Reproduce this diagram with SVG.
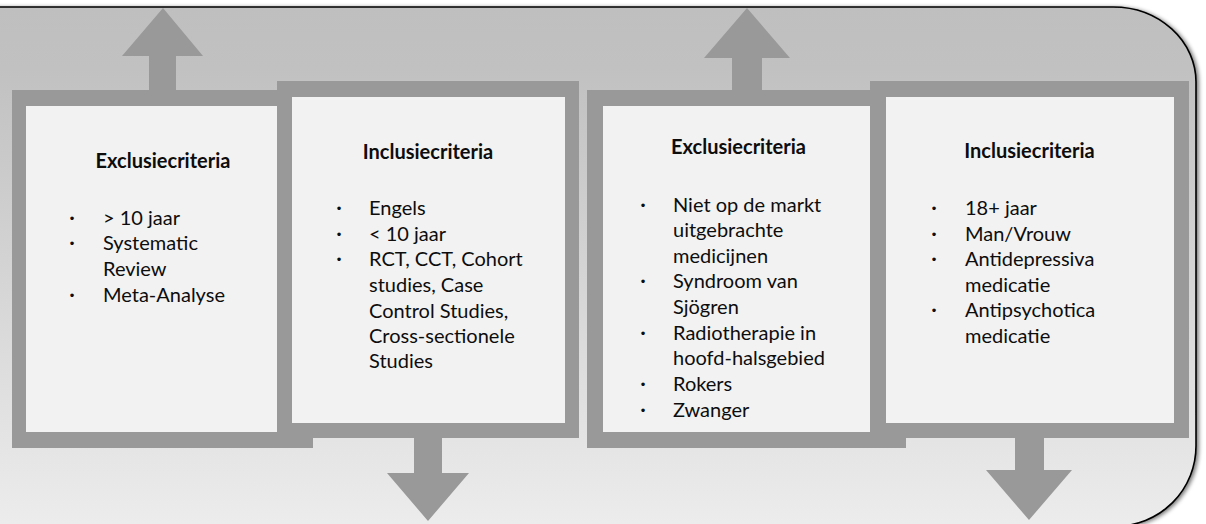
<svg xmlns="http://www.w3.org/2000/svg" width="1206" height="524" viewBox="0 0 1206 524">
<defs>
<linearGradient id="bg" gradientUnits="userSpaceOnUse" x1="0" y1="7" x2="0" y2="524">
<stop offset="0" stop-color="#bfbfbf"/>
<stop offset="0.12" stop-color="#c1c1c1"/>
<stop offset="1" stop-color="#ececec"/>
</linearGradient>
<filter id="sh" x="-5%" y="-5%" width="110%" height="110%">
<feGaussianBlur in="SourceAlpha" stdDeviation="2"/>
<feOffset dx="1.5" dy="1" result="b"/>
<feComponentTransfer><feFuncA type="linear" slope="0.55"/></feComponentTransfer>
<feMerge><feMergeNode/><feMergeNode in="SourceGraphic"/></feMerge>
</filter>
<style>
.frame{fill:#999999}
.inner{fill:#f2f2f2}
.arrow{fill:#999999}
.title{font-family:Lato,"Liberation Sans",sans-serif;font-weight:bold;font-size:20px;fill:#0d0d0d;text-anchor:middle}
.t{font-family:Lato,"Liberation Sans",sans-serif;font-size:20px;fill:#0d0d0d}
.b{font-family:"Liberation Sans",sans-serif;font-size:13px;fill:#0d0d0d;text-anchor:middle}
</style>
</defs>
<rect width="1206" height="524" fill="#ffffff"/>
<g id="background">
<path d="M-20 7 H1113 A83 75 0 0 1 1196 82 V446 A80 80 0 0 1 1116 526 H-20 Z" fill="url(#bg)" stroke="#000000" stroke-width="1.6" filter="url(#sh)"/>
</g>
<g id="box1">
<rect class="frame" x="12" y="90" width="301" height="358"/>
<rect class="inner" x="26" y="106" width="273" height="326"/>
<text class="title" x="163" y="168">Exclusiecriteria</text>
<text class="b" x="72" y="223">•</text><text class="t" x="103" y="225">&gt; 10 jaar</text>
<text class="b" x="72" y="248">•</text><text class="t" x="103" y="250">Systematic</text>
<text class="t" x="103" y="276">Review</text>
<text class="b" x="72" y="300">•</text><text class="t" x="103" y="302">Meta-Analyse</text>
</g>
<g id="box2">
<rect class="frame" x="277" y="81" width="302" height="357"/>
<rect class="inner" x="292" y="97" width="273" height="326"/>
<text class="title" x="428" y="159">Inclusiecriteria</text>
<text class="b" x="339" y="213">•</text><text class="t" x="369" y="215">Engels</text>
<text class="b" x="339" y="239">•</text><text class="t" x="369" y="241">&lt; 10 jaar</text>
<text class="b" x="339" y="264">•</text><text class="t" x="369" y="266">RCT, CCT, Cohort</text>
<text class="t" x="369" y="292">studies, Case</text>
<text class="t" x="369" y="318">Control Studies,</text>
<text class="t" x="369" y="343">Cross-sectionele</text>
<text class="t" x="369" y="368">Studies</text>
</g>
<g id="box3">
<rect class="frame" x="587" y="90" width="319" height="358"/>
<rect class="inner" x="603" y="106" width="287" height="326"/>
<text class="title" x="738.5" y="154">Exclusiecriteria</text>
<text class="b" x="643" y="210">•</text><text class="t" x="673" y="212">Niet op de markt</text>
<text class="t" x="673" y="237">uitgebrachte</text>
<text class="t" x="673" y="263">medicijnen</text>
<text class="b" x="643" y="286">•</text><text class="t" x="673" y="288">Syndroom van</text>
<text class="t" x="673" y="314">Sjögren</text>
<text class="b" x="643" y="338">•</text><text class="t" x="673" y="340">Radiotherapie in</text>
<text class="t" x="673" y="365">hoofd-halsgebied</text>
<text class="b" x="643" y="389">•</text><text class="t" x="673" y="391">Rokers</text>
<text class="b" x="643" y="415">•</text><text class="t" x="673" y="417">Zwanger</text>
</g>
<g id="box4">
<rect class="frame" x="870" y="81" width="319" height="357"/>
<rect class="inner" x="886" y="97" width="288" height="326"/>
<text class="title" x="1029.5" y="158">Inclusiecriteria</text>
<text class="b" x="934" y="213">•</text><text class="t" x="965" y="215">18+ jaar</text>
<text class="b" x="934" y="239">•</text><text class="t" x="965" y="241">Man/Vrouw</text>
<text class="b" x="934" y="264">•</text><text class="t" x="965" y="266">Antidepressiva</text>
<text class="t" x="965" y="292">medicatie</text>
<text class="b" x="934" y="315">•</text><text class="t" x="965" y="317">Antipsychotica</text>
<text class="t" x="965" y="343">medicatie</text>
</g>
<g id="connectors">
<polygon class="arrow" points="149,92 149,56 122,56 163,8 203,56 176,56 176,92"/>
<polygon class="arrow" points="414,436 414,473 387,473 428,521 469,473 442,473 442,436"/>
<polygon class="arrow" points="732,92 732,58 704,58 747,8 790,58 762,58 762,92"/>
<polygon class="arrow" points="1015,436 1015,470 986,470 1029,520 1072,470 1044,470 1044,436"/>
</g>
</svg>
